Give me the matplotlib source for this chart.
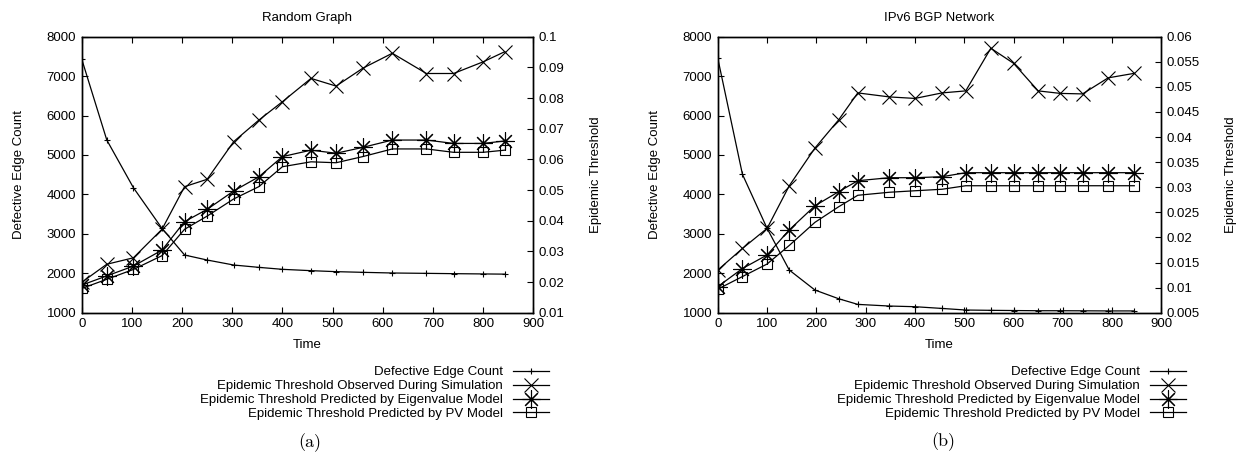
import matplotlib
matplotlib.use("Agg")
import matplotlib.pyplot as plt

plt.rcParams['font.family'] = ['Liberation Sans', 'DejaVu Sans']
plt.rcParams['font.size'] = 9.5

# Random Graph (a)
rg_time = [0, 50, 103, 160, 205, 250, 303, 353, 400, 457, 507, 560, 619, 687, 741, 800, 843]
rg_defective = [7434, 5380, 4171, 3139, 2463, 2336, 2209, 2150, 2100, 2066, 2041, 2024,
                2007, 1998, 1990, 1983, 1978]
rg_observed = [0.0199, 0.0258, 0.0279, 0.0372, 0.0511, 0.0535, 0.0658, 0.0728, 0.0788,
               0.0864, 0.0839, 0.0897, 0.0946, 0.0880, 0.0880, 0.0918, 0.0951]
rg_eigen = [0.0190, 0.0220, 0.0252, 0.0304, 0.0397, 0.0437, 0.0497, 0.0543, 0.0609,
            0.0630, 0.0620, 0.0639, 0.0663, 0.0663, 0.0652, 0.0652, 0.0660]
rg_pv = [0.0179, 0.0209, 0.0241, 0.0286, 0.0372, 0.0415, 0.0471, 0.0511, 0.0576,
         0.0592, 0.0589, 0.0609, 0.0634, 0.0634, 0.0623, 0.0623, 0.0630]

# IPv6 BGP Network (b)
bgp_time = [0, 50, 100, 145, 197, 245, 284, 348, 400, 455, 503, 554, 600, 650, 695, 740, 792, 845]
bgp_defective = [7451, 4509, 3139, 2082, 1575, 1355, 1211, 1169, 1152, 1108, 1068, 1060,
                 1055, 1050, 1050, 1048, 1045, 1045]
bgp_observed = [0.0135, 0.0178, 0.0218, 0.0303, 0.0378, 0.0434, 0.0488, 0.0480, 0.0477,
                0.0488, 0.0492, 0.0577, 0.0547, 0.0492, 0.0487, 0.0486, 0.0518, 0.0527]
bgp_eigen = [0.0102, 0.0138, 0.0165, 0.0215, 0.0263, 0.0291, 0.0313, 0.0319, 0.0319,
             0.0321, 0.0329, 0.0329, 0.0329, 0.0329, 0.0329, 0.0329, 0.0329, 0.0329]
bgp_pv = [0.0097, 0.0122, 0.0147, 0.0184, 0.0230, 0.0261, 0.0284, 0.0290, 0.0293,
          0.0296, 0.0303, 0.0303, 0.0303, 0.0303, 0.0303, 0.0303, 0.0303, 0.0303]

labels = ['Defective Edge Count',
          'Epidemic Threshold Observed During Simulation',
          'Epidemic Threshold Predicted by Eigenvalue Model',
          'Epidemic Threshold Predicted by PV Model']

W, H = 1245, 454
fig = plt.figure(figsize=(W / 100, H / 100), dpi=100)


def panel(box, title, t, defect, obs, eig, pv, rlim, rticks):
    ax = fig.add_axes(box)
    ax2 = ax.twinx()
    lw = 0.9
    l1, = ax.plot(t, defect, color='k', lw=lw, marker='+', ms=4, mew=0.8)
    l2, = ax2.plot(t, obs, color='k', lw=lw, marker='x', ms=9.5, mew=0.8)
    l3, = ax2.plot(t, eig, color='k', lw=lw, marker=(8, 2, 0), ms=13, mew=0.8)
    l4, = ax2.plot(t, pv, color='k', lw=lw, marker='s', ms=7.3, mew=0.8, mfc='none')

    ax.set_xlim(0, 900)
    ax.set_ylim(1000, 8000)
    ax.set_xticks(range(0, 901, 100))
    ax.set_yticks(range(1000, 8001, 1000))
    ax2.set_ylim(*rlim)
    ax2.set_yticks(rticks)
    ax2.set_yticklabels([f'{v:g}' for v in rticks])

    ax.tick_params(axis='x', direction='in', top=True, length=4, pad=4)
    ax.tick_params(axis='y', direction='in', left=True, right=False, length=4, pad=4)
    ax2.tick_params(axis='y', direction='in', right=True, left=False, length=4, pad=4)
    for a in (ax, ax2):
        for s in a.spines.values():
            s.set_linewidth(1.0)

    ax.set_title(title, pad=11, fontsize=9.5)
    ax.set_xlabel('Time')
    ax.xaxis.set_label_coords(0.5, -0.095)
    ax.set_ylabel('Defective Edge Count')
    ax2.set_ylabel('Epidemic Threshold')
    return ax, ax2, [l1, l2, l3, l4]


ax_a, ax_a2, h_a = panel([81.7 / W, 1 - 312.7 / H, 451.6 / W, 276 / H], 'Random Graph',
                         rg_time, rg_defective, rg_observed, rg_eigen, rg_pv,
                         (0.01, 0.1), [0.01 * i for i in range(1, 11)])
ax_a.yaxis.set_label_coords(-0.1245, 0.5)
ax_a2.yaxis.set_label_coords(1.1256, 0.5)

ax_b, ax_b2, h_b = panel([717.8 / W, 1 - 312.7 / H, 443.6 / W, 276 / H], 'IPv6 BGP Network',
                         bgp_time, bgp_defective, bgp_observed, bgp_eigen, bgp_pv,
                         (0.005, 0.06), [0.005 * i for i in range(1, 13)])
ax_b.yaxis.set_label_coords(-0.127, 0.5)
ax_b2.yaxis.set_label_coords(1.1438, 0.5)

for handles, xr in ((h_a, 549), (h_b, 1186)):
    fig.legend(handles, labels, loc='upper right', bbox_to_anchor=(xr / W, 1 - 366 / H),
               frameon=False, markerfirst=False, borderpad=0, borderaxespad=0,
               handlelength=2.75, handletextpad=0.75, labelspacing=0.13, fontsize=9.5)

fig.text(310 / W, 1 - 443 / H, '(a)', family='cmr10', fontsize=13, ha='center', va='center')
fig.text(943 / W, 1 - 442 / H, '(b)', family='cmr10', fontsize=13, ha='center', va='center')

fig.savefig('out.png', dpi=100)
